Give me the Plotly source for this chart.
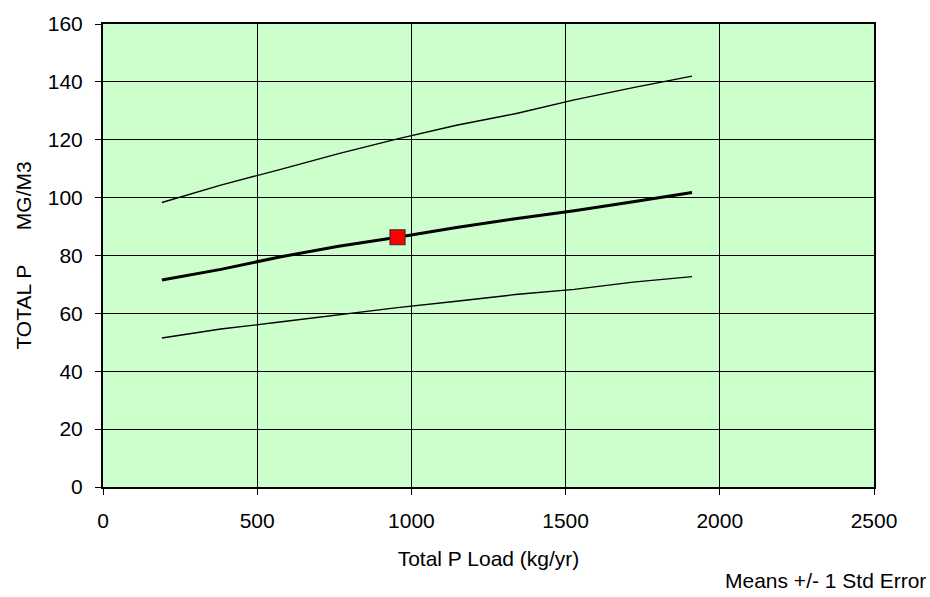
import plotly.graph_objects as go

# Total P load (kg/yr) on the x axis
load = [191, 382, 573, 764, 955, 1146, 1337, 1528, 1719, 1910]

# Predicted total P (mg/m3): mean and +/- 1 std error
mean_p = [71.5, 75.2, 79.5, 83.2, 86.3, 89.7, 92.7, 95.5, 98.6, 101.8]
upper_p = [98.3, 104.3, 109.7, 115.2, 120.3, 125.0, 129.0, 133.8, 138.0, 142.0]
lower_p = [51.5, 54.6, 57.0, 59.6, 62.0, 64.2, 66.5, 68.3, 70.8, 72.7]

# Observed / current point
obs_load = [955]
obs_p = [86.3]

fig = go.Figure()

fig.add_trace(go.Scatter(x=load, y=upper_p, mode='lines',
                         line=dict(color='black', width=1.4)))
fig.add_trace(go.Scatter(x=load, y=lower_p, mode='lines',
                         line=dict(color='black', width=1.4)))
fig.add_trace(go.Scatter(x=load, y=mean_p, mode='lines',
                         line=dict(color='black', width=3)))
fig.add_trace(go.Scatter(x=obs_load, y=obs_p, mode='markers',
                         marker=dict(symbol='square', size=15, color='#FF0000',
                                     line=dict(color='#333333', width=1.2))))

font = dict(family='Liberation Sans, Arial, sans-serif', size=21, color='black')

fig.update_layout(
    width=930,
    height=597,
    showlegend=False,
    paper_bgcolor='white',
    plot_bgcolor='#CCFFCC',
    font=font,
    margin=dict(l=103, r=56, t=18, b=110),
    xaxis=dict(
        range=[0, 2500],
        tickvals=[0, 500, 1000, 1500, 2000, 2500],
        showgrid=True, gridcolor='black', gridwidth=1,
        zeroline=False,
        showline=True, linecolor='black', linewidth=2, mirror=True,
        ticks='outside', ticklen=6, tickcolor='black',
        ticklabelstandoff=8,
        title=dict(text='Total P Load (kg/yr)', standoff=20, font=font),
    ),
    yaxis=dict(
        range=[0, 160],
        tickvals=[0, 20, 40, 60, 80, 100, 120, 140, 160],
        showgrid=True, gridcolor='black', gridwidth=1,
        zeroline=False,
        showline=True, linecolor='black', linewidth=2, mirror=True,
        ticks='outside', ticklen=6, tickcolor='black',
        ticklabelstandoff=8,
        title=dict(text='TOTAL P      MG/M3', standoff=10, font=font),
    ),
    annotations=[dict(
        text='Means +/- 1 Std Error',
        xref='paper', yref='paper',
        x=1.070, y=-0.2015,
        xanchor='right', yanchor='middle',
        showarrow=False, font=font,
    )],
)

# page body has a default 8px margin; drop it so the figure sits at 0,0
fig.write_html("out.html", config={'displayModeBar': False},
               post_script="document.body.style.margin='0';")
